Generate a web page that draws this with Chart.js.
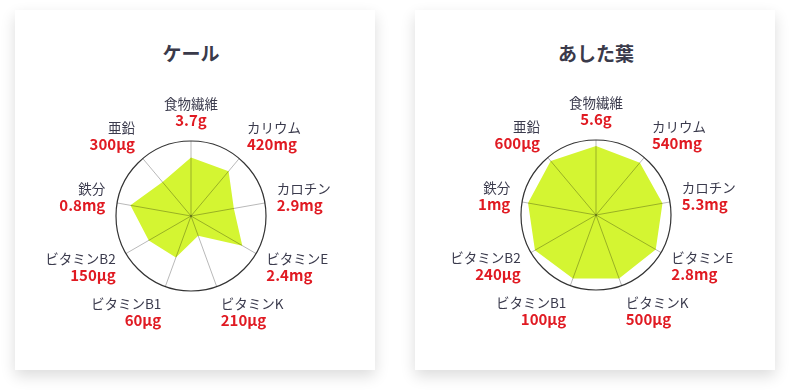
<!DOCTYPE html>
<html lang="ja">
<head>
<meta charset="utf-8">
<script src="https://cdn.jsdelivr.net/npm/chart.js@4"></script>
<style>
  html, body { margin: 0; padding: 0; background: #fff; }
  body { width: 790px; height: 391px; position: relative; overflow: hidden; font-family: "Noto Sans CJK JP", "Noto Sans", sans-serif; }
  .card { position: absolute; top: 10px; width: 360px; height: 360px; background: #fff; box-shadow: 0 6px 14px rgba(0,0,0,0.14); }
  .card canvas { position: absolute; left: 0; top: 0; }
  .title { position: absolute; top: 30px; transform: translateX(-50%); font-size: 19px; font-weight: 700; color: #3a3a4a; white-space: nowrap; line-height: 26px; }
</style>
</head>
<body>
<div class="card" style="left:15px">
  <div class="title" style="left:176px">ケール</div>
  <canvas id="kaleChart" width="360" height="360"></canvas>
</div>
<div class="card" style="left:415px">
  <div class="title" style="left:181px">あした葉</div>
  <canvas id="ashitabaChart" width="360" height="360"></canvas>
</div>
<script>
var nutrients = ["食物繊維", "カリウム", "カロチン", "ビタミンE", "ビタミンK", "ビタミンB1", "ビタミンB2", "鉄分", "亜鉛"];

var kaleAmounts = ["3.7g", "420mg", "2.9mg", "2.4mg", "210µg", "60µg", "150µg", "0.8mg", "300µg"];
var kaleScores = [78, 78, 58, 79, 28, 59, 65, 82, 59];

var ashitabaAmounts = ["5.6g", "540mg", "5.3mg", "2.8mg", "500µg", "100µg", "240µg", "1mg", "600µg"];
var ashitabaScores = [92, 91, 90, 92, 90, 90, 94, 92, 94];

// two-colour point labels: name on top, amount in red below
var twoLineLabels = {
    id: "twoLineLabels",
    afterDraw: function(chart, args, opts) {
        var scale = chart.scales.r;
        var ctx = chart.ctx;
        var amounts = opts.amounts;
        var H = 32;
        ctx.save();
        for (var i = 0; i < nutrients.length; i++) {
            var a = i * 2 * Math.PI / nutrients.length;
            var s = Math.sin(a), c = Math.cos(a);
            var p = scale.getPointPosition(i, scale.drawingArea + 12);
            var align = Math.abs(s) < 0.05 ? "center" : (s > 0 ? "left" : "right");
            var top = p.y - H * (1 + c) / 2;
            ctx.textAlign = align;
            ctx.textBaseline = "alphabetic";
            ctx.font = "13.5px 'Noto Sans CJK JP'";
            ctx.fillStyle = "#3b3b4d";
            ctx.fillText(nutrients[i], p.x, top + 12);
            ctx.font = "bold 15px 'Noto Sans CJK JP'";
            ctx.fillStyle = "#e01a22";
            ctx.fillText(amounts[i], p.x, top + 29);
        }
        ctx.restore();
    }
};

function makeRadar(id, scores, amounts, pad) {
    var ctx = document.getElementById(id).getContext("2d");
    return new Chart(ctx, {
        type: "radar",
        data: {
            labels: nutrients,
            datasets: [{
                data: scores,
                backgroundColor: "#d4f532",
                borderWidth: 0,
                pointRadius: 0,
                fill: true
            }]
        },
        options: {
            responsive: false,
            animation: false,
            layout: { padding: pad },
            plugins: {
                legend: { display: false },
                tooltip: { enabled: false },
                twoLineLabels: { amounts: amounts }
            },
            scales: {
                r: {
                    min: 0,
                    max: 100,
                    ticks: { display: false, stepSize: 100 },
                    pointLabels: { display: false },
                    grid: { circular: true, color: "#333", lineWidth: 1.2, z: 1 },
                    angleLines: { color: "rgba(0,0,0,0.28)", lineWidth: 1 }
                }
            }
        },
        plugins: [twoLineLabels]
    });
}

makeRadar("kaleChart", kaleScores, kaleAmounts, { left: 101, right: 109, top: 131, bottom: 79 });
makeRadar("ashitabaChart", ashitabaScores, ashitabaAmounts, { left: 106, right: 104, top: 130, bottom: 80 });
</script>
</body>
</html>
